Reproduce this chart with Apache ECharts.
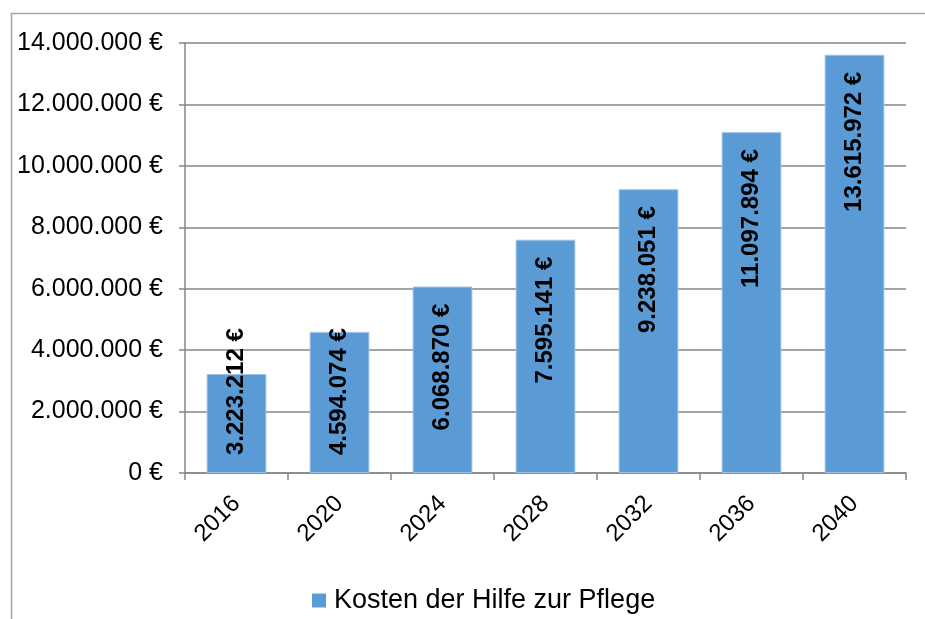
<!DOCTYPE html>
<html>
<head>
<meta charset="utf-8">
<script src="https://cdn.jsdelivr.net/npm/echarts@6/dist/echarts.min.js"></script>
<style>
  html, body { margin: 0; padding: 0; background: #fff; }
  #main { width: 925px; height: 619px; }
</style>
</head>
<body>
<div id="main"></div>
<script>
"use strict";

var years = ["2016", "2020", "2024", "2028", "2032", "2036", "2040"];
var kosten = [3223212, 4594074, 6068870, 7595141, 9238051, 11097894, 13615972];
var seriesName = "Kosten der Hilfe zur Pflege";

var fontName = "Liberation Sans, Arial, sans-serif";
var chart = echarts.init(document.getElementById("main"));

// 1234567 -> "1.234.567 €"
function euro(v) {
    return String(Math.round(v)).replace(/\B(?=(\d{3})+(?!\d))/g, ".") + " €";
}

// short bars: label sits at bottom and sticks out, tall bars: label hangs from top
var barData = kosten.map(function(v) {
    var low = v < 5300000;
    return {
        value: v,
        label: {
            position: low ? "insideBottom" : "insideTop",
            align: low ? "left" : "right",
            distance: low ? 18 : 17
        }
    };
});

var option = {
    animation: false,
    graphic: [{
        type: "rect",
        shape: { x: 11.5, y: 13.5, width: 1200, height: 1200 },
        style: { fill: null, stroke: "#a6a6a6", lineWidth: 1.5 },
        silent: true
    }],
    grid: { left: 185, top: 43, right: 19, bottom: 146 },
    legend: {
        data: [seriesName],
        left: 307,
        top: 582,
        icon: "rect",
        itemWidth: 14,
        itemHeight: 14,
        itemGap: 8,
        itemStyle: { borderWidth: 0 },
        textStyle: { fontFamily: fontName, fontSize: 27, color: "#000", padding: [0, 0, 0, 3] }
    },
    xAxis: {
        type: "category",
        data: years,
        axisLine: { lineStyle: { color: "#868686", width: 1.5 } },
        axisTick: { show: true, length: 7, lineStyle: { color: "#868686", width: 1.5 } },
        axisLabel: { rotate: 45, margin: 27, fontFamily: fontName, fontSize: 24, color: "#000" }
    },
    yAxis: {
        type: "value",
        min: 0,
        max: 14000000,
        interval: 2000000,
        axisLine: { show: true, lineStyle: { color: "#868686", width: 1.5 } },
        axisTick: { show: true, length: 6, lineStyle: { color: "#868686", width: 1.5 } },
        splitLine: { lineStyle: { color: "#868686", width: 1.5 } },
        axisLabel: {
            margin: 22,
            fontFamily: fontName,
            fontSize: 25,
            color: "#000",
            formatter: euro
        }
    },
    series: [{
        name: seriesName,
        type: "bar",
        barWidth: "58%",
        data: barData,
        itemStyle: { color: "#5b9bd5", borderColor: "#9cc2e8", borderWidth: 1 },
        label: {
            show: true,
            rotate: 90,
            verticalAlign: "middle",
            fontFamily: fontName,
            fontSize: 24,
            fontWeight: "bold",
            color: "#000",
            formatter: function(p) { return euro(p.value); }
        }
    }]
};

chart.setOption(option);
</script>
</body>
</html>
